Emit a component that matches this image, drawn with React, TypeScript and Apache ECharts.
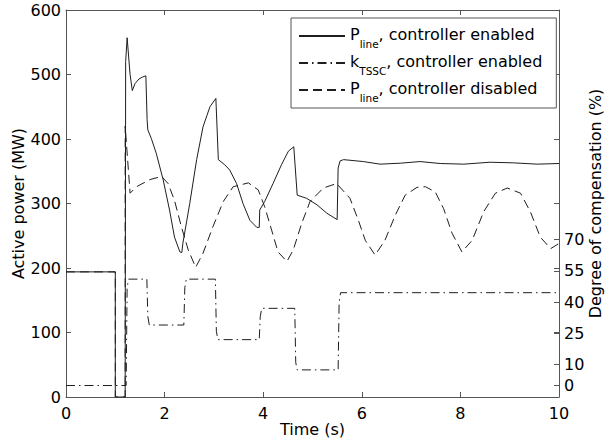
import React, { useEffect, useRef } from 'react';
import * as echarts from 'echarts';

// ---- axes ----
const timeTicks = [0, 2, 4, 6, 8, 10];
const powerTicks = [0, 100, 200, 300, 400, 500, 600];
const compTicks = [0, 10, 25, 40, 55, 70];

// ---- P_line, controller enabled (MW) ----
const tEnabled = [0, 1.0, 1.0, 1.2, 1.2, 1.21, 1.24, 1.3, 1.345, 1.4, 1.48, 1.55, 1.62, 1.645, 1.66, 1.73, 1.83, 1.97, 2.1, 2.2, 2.31, 2.35, 2.37, 2.51, 2.65, 2.78, 2.92, 3.04, 3.09, 3.22, 3.32, 3.46, 3.59, 3.73, 3.87, 3.92, 3.93, 4.03, 4.2, 4.37, 4.51, 4.62, 4.69, 4.88, 5.09, 5.29, 5.5, 5.52, 5.56, 5.63, 6.03, 6.37, 6.78, 7.18, 7.59, 8.07, 8.6, 9.08, 9.56, 10];
const pEnabled = [194, 194, 0, 0, 0, 520, 557, 500, 475, 486, 493, 496, 498, 430, 414, 401, 378, 337, 290, 248, 225, 224, 238, 300, 368, 419, 450, 463, 368, 360, 352, 331, 300, 274, 263, 263, 290, 303, 331, 360, 381, 388, 313, 308, 298, 285, 275, 355, 366, 368, 365, 361, 362.5, 365, 362, 361, 364, 363, 361, 362];

// ---- P_line, controller disabled (MW) ----
const tDisabled = [0, 1.0, 1.0, 1.2, 1.2, 1.3, 1.43, 1.7, 1.94, 2.07, 2.2, 2.34, 2.48, 2.63, 2.78, 2.98, 3.19, 3.39, 3.7, 3.9, 4.03, 4.17, 4.3, 4.48, 4.61, 4.78, 4.95, 5.22, 5.49, 5.76, 5.93, 6.07, 6.27, 6.47, 6.68, 6.88, 7.12, 7.29, 7.49, 7.66, 7.83, 8.03, 8.24, 8.47, 8.71, 8.95, 9.22, 9.42, 9.62, 9.83, 10];
const pDisabled = [194, 194, 0, 0, 420, 316, 326, 337, 342, 331, 305, 264, 228, 201, 223, 264, 303, 326, 332, 321, 295, 259, 225, 210, 228, 269, 303, 324, 331, 308, 274, 243, 220, 243, 282, 313, 325, 326, 318, 292, 254, 225, 243, 287, 316, 324, 316, 287, 248, 230, 238];

// ---- k_TSSC, controller enabled (%) ----
const tK = [0, 1.22, 1.24, 1.27, 1.64, 1.66, 1.69, 2.39, 2.41, 2.44, 3.03, 3.05, 3.08, 3.92, 3.94, 3.97, 4.64, 4.66, 4.69, 5.52, 5.54, 5.57, 10];
const kTSSC = [0, 0, 47, 51, 51, 33, 29, 29, 47, 51, 51, 26, 22, 22, 33, 37, 37, 11, 7.5, 7.5, 40, 44.5, 44.5];

const seriesNames = ['P_line, controller enabled', 'k_TSSC, controller enabled', 'P_line, controller disabled'];

const FONT = 'DejaVu Sans';
const AXIS_COLOR = '#555';
const LINE_COLOR = '#1e1e1e';

function zip(xs: number[], ys: number[]) {
  return xs.map((x, i) => [x, ys[i]]);
}

export default function App() {
  const ref = useRef<HTMLDivElement>(null);

  useEffect(() => {
    document.body.style.margin = '0';
    if (!ref.current) return;
    const chart = echarts.init(ref.current, undefined, { renderer: 'svg' });

    const tickStyle = { show: true, inside: true, length: 5, lineStyle: { color: AXIS_COLOR } };
    const lineStyleAxis = { show: true, onZero: false, lineStyle: { color: AXIS_COLOR, width: 1 } };
    const labelStyle = { color: '#000', fontFamily: FONT, fontSize: 16 };

    const option: any = {
      animation: false,
      backgroundColor: '#fff',
      textStyle: { fontFamily: FONT },
      grid: { left: 66, right: 46, top: 10, bottom: 48, containLabel: false, outerBoundsMode: 'none' },
      legend: {
        orient: 'vertical',
        left: 291,
        top: 18,
        data: seriesNames,
        padding: [8, 14, 5, 7],
        itemGap: 4,
        itemWidth: 46,
        itemHeight: 14,
        borderColor: AXIS_COLOR,
        borderWidth: 1,
        backgroundColor: '#fff',
        itemStyle: { opacity: 0 },
        formatter: (name: string) => {
          const idx = name.indexOf(', ');
          const head = name.slice(0, idx);
          const rest = name.slice(idx);
          const [a, b] = head.split('_');
          return `{m|${a}}{s|${b}}{m|${rest}}`;
        },
        textStyle: {
          color: '#000',
          fontFamily: FONT,
          fontSize: 16,
          rich: {
            m: { fontFamily: FONT, fontSize: 16, lineHeight: 20, verticalAlign: 'top', color: '#000' },
            s: { fontFamily: FONT, fontSize: 10.5, lineHeight: 12, padding: [12, 0, 0, 0], verticalAlign: 'top', color: '#000' },
          },
        },
      },
      xAxis: [
        {
          type: 'value',
          position: 'bottom',
          min: 0,
          max: 10,
          interval: 2,
          name: 'Time (s)',
          nameLocation: 'middle',
          nameGap: 24,
          nameMoveOverlap: false,
          nameTextStyle: { ...labelStyle },
          axisLine: lineStyleAxis,
          axisTick: tickStyle,
          axisLabel: { ...labelStyle, margin: 8, customValues: timeTicks },
          splitLine: { show: false },
        },
        {
          type: 'value',
          position: 'top',
          min: 0,
          max: 10,
          interval: 2,
          axisLine: lineStyleAxis,
          axisTick: tickStyle,
          axisLabel: { show: false },
          splitLine: { show: false },
        },
      ],
      yAxis: [
        {
          type: 'value',
          position: 'left',
          min: 0,
          max: 600,
          interval: 100,
          name: 'Active power (MW)',
          nameLocation: 'middle',
          nameGap: 40,
          nameMoveOverlap: false,
          nameTextStyle: { ...labelStyle },
          axisLine: lineStyleAxis,
          axisTick: tickStyle,
          axisLabel: { ...labelStyle, margin: 5, customValues: powerTicks },
          splitLine: { show: false },
        },
        {
          type: 'value',
          position: 'right',
          min: -5.5,
          max: 180,
          name: 'Degree of compensation (%)',
          nameLocation: 'middle',
          nameGap: 28,
          nameMoveOverlap: false,
          nameTextStyle: { ...labelStyle },
          axisLine: lineStyleAxis,
          axisTick: { ...tickStyle, customValues: compTicks },
          axisLabel: { ...labelStyle, margin: 5, customValues: compTicks },
          splitLine: { show: false },
        },
        {
          type: 'value',
          position: 'right',
          min: 0,
          max: 600,
          interval: 100,
          axisLine: { show: false, onZero: false },
          axisTick: tickStyle,
          axisLabel: { show: false },
          splitLine: { show: false },
        },
      ],
      series: [
        {
          name: seriesNames[0],
          type: 'line',
          xAxisIndex: 0,
          yAxisIndex: 0,
          data: zip(tEnabled, pEnabled),
          showSymbol: false,
          symbol: 'none',
          smooth: false,
          lineStyle: { color: LINE_COLOR, width: 1, type: 'solid' },
          itemStyle: { color: LINE_COLOR },
          z: 3,
        },
        {
          name: seriesNames[1],
          type: 'line',
          xAxisIndex: 0,
          yAxisIndex: 1,
          data: zip(tK, kTSSC),
          showSymbol: false,
          symbol: 'none',
          lineStyle: { color: LINE_COLOR, width: 1, type: [9, 4, 1.5, 4] },
          itemStyle: { color: LINE_COLOR },
          z: 2,
        },
        {
          name: seriesNames[2],
          type: 'line',
          xAxisIndex: 0,
          yAxisIndex: 0,
          data: zip(tDisabled, pDisabled),
          showSymbol: false,
          symbol: 'none',
          lineStyle: { color: LINE_COLOR, width: 1, type: [9, 5] },
          itemStyle: { color: LINE_COLOR },
          z: 2,
        },
      ],
    };

    chart.setOption(option);
    return () => {
      chart.dispose();
    };
  }, []);

  return <div ref={ref} style={{ width: 605, height: 445 }} />;
}
